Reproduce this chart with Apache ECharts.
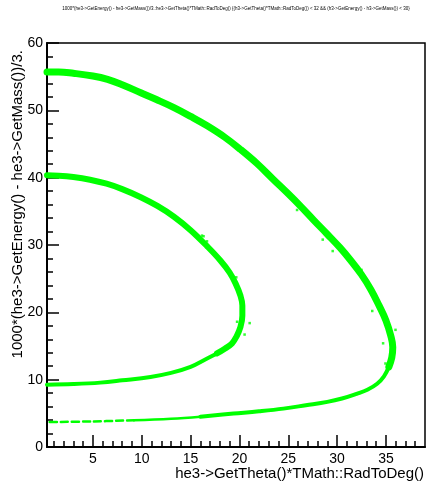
<!DOCTYPE html>
<html>
<head>
<meta charset="utf-8">
<script src="https://cdn.jsdelivr.net/npm/echarts@6/dist/echarts.min.js"></script>
<style>html,body{margin:0;padding:0;background:#fff}#c{width:427px;height:485px}</style>
</head>
<body>
<div id="c"></div>
<script>
const chartTitle = "1000*(he3->GetEnergy() - he3->GetMass())/3.:he3->GetTheta()*TMath::RadToDeg() {(h3->GetTheta()*TMath::RadToDeg()) < 32 && (h3->GetEnergy() - h3->GetMass()) < 30}";
const xTitle = "he3->GetTheta()*TMath::RadToDeg()";
const yTitle = "1000*(he3->GetEnergy() - he3->GetMass())/3.";
const xMajor = [5, 10, 15, 20, 25, 30, 35];
const xMinor = [1,2,3,4,6,7,8,9,11,12,13,14,16,17,18,19,21,22,23,24,26,27,28,29,31,32,33,34,36,37,38];
const yMajor = [0, 10, 20, 30, 40, 50, 60];
const yMinor = [2,4,6,8,12,14,16,18,22,24,26,28,32,34,36,38,42,44,46,48,52,54,56,58];

// outer locus
const outerUpperX = [0.3,1.5,3,5,6.5,8,9.9,11.5,13.3,15,16.7,18.5,20.1,21.8,23.5,25,26.3,27.6,29,30.3,31.4,32.5,33.45,34.3,35.0,35.5,35.7,35.6,35.3];
const outerUpperY = [55.7,55.7,55.5,55.1,54.6,53.8,52.6,51.6,50.4,49.1,47.7,46.0,44.2,42.1,39.7,37.6,35.7,33.7,31.6,29.6,27.7,25.6,23.4,21.0,18.8,16.5,14.8,13.3,11.9];
const outerLowerX = [35.3,34.8,34.1,33.1,32,30.5,29,26.8,24.5,22,19.4,16];
const outerLowerY = [11.9,10.5,9.4,8.5,7.9,7.2,6.7,6.2,5.7,5.3,4.96,4.5];
const outerTailX = [16,13,9.2];
const outerTailY = [4.5,4.2,3.97];
const outerSparseX = [9.2,5,0.3];
const outerSparseY = [3.97,3.8,3.7];

// inner locus
const innerUpperX = [0.3,1.5,3,4.7,6.4,8,9.9,11.6,13.3,15,16.7,18.05,19.0,19.6,20.1,20.3,20.3,20.1,19.7,19.25,18.5,17.7];
const innerUpperY = [40.35,40.3,40.1,39.7,39.1,38.3,37.1,35.8,34.2,32.2,29.8,27.7,25.9,24.3,22.5,21.0,19.5,17.8,16.4,15.4,14.6,13.9];
const innerLowerX = [17.7,16.5,15,13,10.9,8,5.75,3,0.3];
const innerLowerY = [13.9,13.0,11.9,11.0,10.4,9.9,9.56,9.35,9.26];

// stray points
const strayX = [16.17,16.68,19.68,21.05,20.53,19.76,32.5,28.53,29.55,33.6,35.98,34.71,34.95,25.9,16.33];
const strayY = [31.4,30.55,25.2,18.4,16.7,18.6,26.3,30.8,29.1,20.2,17.4,15.4,12.4,35.2,31.3];

const zip = (xs, ys) => xs.map((x, i) => [x, ys[i]]);
const GREEN = '#00ff00';
const FONT = 'Liberation Sans, Arial, sans-serif';

function band(xs, ys, w, type) {
  return {
    type: 'line', data: zip(xs, ys), showSymbol: false, symbol: 'none',
    smooth: 0.4, clip: true, silent: true,
    lineStyle: { color: GREEN, width: w, cap: 'round', join: 'round', type: type || 'solid' }
  };
}

const chart = echarts.init(document.getElementById('c'), null, { renderer: 'canvas' });
chart.setOption({
  animation: false,
  backgroundColor: '#fff',
  grid: { left: 47, right: 2, top: 43, bottom: 38, show: true, borderColor: '#000', borderWidth: 1.5, backgroundColor: 'transparent' },
  xAxis: [
    { type: 'value', min: 0.3, max: 39, position: 'bottom',
      axisLine: { show: true, onZero: false, lineStyle: { color: '#000', width: 2 } },
      axisTick: { show: true, inside: true, length: 12, customValues: xMajor, lineStyle: { color: '#000', width: 1.5 } },
      axisLabel: { show: true, customValues: xMajor, color: '#000', fontSize: 14, fontFamily: FONT, margin: 5 },
      splitLine: { show: false } },
    { type: 'value', min: 0.3, max: 39, position: 'bottom',
      axisLine: { show: false, onZero: false },
      axisTick: { show: true, inside: true, length: 6, customValues: xMinor, lineStyle: { color: '#000', width: 1.5 } },
      axisLabel: { show: false }, splitLine: { show: false } }
  ],
  yAxis: [
    { type: 'value', min: 0, max: 60, position: 'left',
      axisLine: { show: true, onZero: false, lineStyle: { color: '#000', width: 2 } },
      axisTick: { show: true, inside: true, length: 12, customValues: yMajor, lineStyle: { color: '#000', width: 1.5 } },
      axisLabel: { show: true, customValues: yMajor, color: '#000', fontSize: 14, fontFamily: FONT, margin: 4 },
      splitLine: { show: false } },
    { type: 'value', min: 0, max: 60, position: 'left',
      axisLine: { show: false, onZero: false },
      axisTick: { show: true, inside: true, length: 6, customValues: yMinor, lineStyle: { color: '#000', width: 1.5 } },
      axisLabel: { show: false }, splitLine: { show: false } }
  ],
  series: [
    band(outerUpperX, outerUpperY, 7),
    band(outerLowerX, outerLowerY, 4),
    band(outerTailX, outerTailY, 2.5),
    band(outerSparseX, outerSparseY, 2.5, [7, 4]),
    band(innerUpperX, innerUpperY, 6),
    band(innerLowerX, innerLowerY, 4),
    { type: 'scatter', data: zip(strayX, strayY), symbol: 'rect', symbolSize: 2.5, silent: true,
      itemStyle: { color: GREEN } }
  ],
  graphic: [
    { type: 'text', x: 236, y: 9, style: { text: chartTitle, font: '4.5px ' + FONT, fill: '#000', textAlign: 'center', textVerticalAlign: 'middle' } },
    { type: 'text', x: 424, y: 474, style: { text: xTitle, font: '15px ' + FONT, fill: '#000', textAlign: 'right', textVerticalAlign: 'middle' } },
    { type: 'text', x: 18, y: 50, rotation: Math.PI / 2, style: { text: yTitle, font: '15px ' + FONT, fill: '#000', textAlign: 'right', textVerticalAlign: 'middle' } }
  ]
});
</script>
</body>
</html>
